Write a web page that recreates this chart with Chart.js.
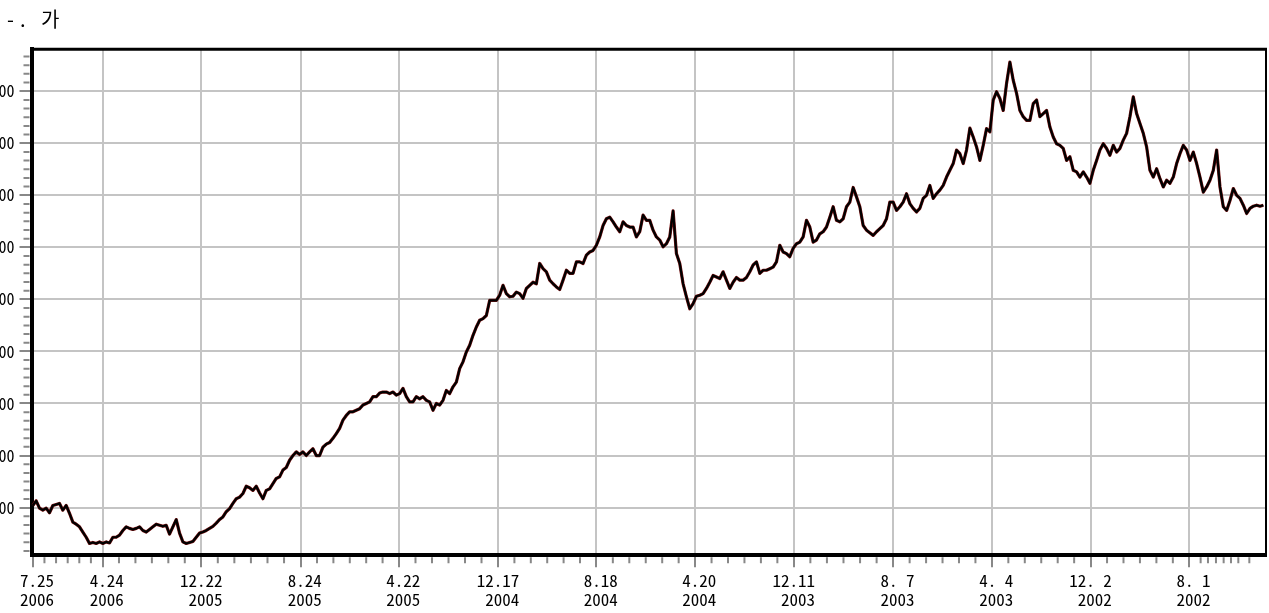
<!DOCTYPE html>
<html>
<head>
<meta charset="utf-8">
<script src="https://cdn.jsdelivr.net/npm/chart.js@4.4.1/dist/chart.umd.min.js"></script>
<style>
  body { margin: 0; background: #fff; overflow: hidden; }
  #wrap { position: relative; width: 1269px; height: 613px; }
  #title { position: absolute; left: 0; top: 0; font-family: 'Noto Sans CJK KR', sans-serif; font-size: 20px; color: #000; }
  #title span { position: absolute; top: 4px; white-space: nowrap; }
</style>
</head>
<body>
<div id="wrap">
  <canvas id="chart" width="1269" height="613"></canvas>
  <div id="title"><span style="left:7px">-</span><span style="left:20px">.</span><span style="left:41px">가</span></div>
</div>
<script>
// newest (left) to oldest (right)
var values = [
  104, 113, 99, 95, 99, 90, 104, 106, 108, 95,
  104, 89, 72, 68, 63, 53, 43, 31, 33, 31,
  34, 31, 34, 32, 43, 43, 47, 56, 63, 60,
  58, 60, 63, 56, 53, 58, 63, 68, 66, 64,
  66, 49, 63, 77, 51, 34, 31, 33, 35, 43,
  51, 53, 56, 60, 64, 70, 77, 82, 92, 98,
  108, 117, 120, 127, 141, 138, 133, 141, 128, 117,
  133, 136, 146, 156, 159, 172, 177, 191, 200, 207,
  202, 207, 200, 207, 213, 200, 200, 216, 222, 225,
  233, 242, 252, 268, 277, 284, 284, 287, 290, 297,
  300, 303, 313, 313, 320, 322, 322, 319, 322, 316,
  319, 329, 313, 303, 303, 313, 309, 313, 306, 303,
  287, 300, 297, 306, 325, 319, 332, 341, 367, 380,
  399, 412, 431, 447, 460, 463, 469, 498, 498, 498,
  508, 527, 511, 505, 506, 514, 511, 502, 521, 527,
  533, 530, 569, 559, 553, 537, 530, 524, 519, 537,
  556, 550, 550, 572, 572, 569, 585, 591, 594, 604,
  620, 642, 655, 658, 649, 639, 630, 649, 642, 639,
  639, 620, 630, 662, 652, 652, 633, 620, 614, 601,
  607, 620, 670, 588, 569, 530, 505, 482, 492, 506,
  508, 511, 521, 533, 546, 543, 540, 553, 537, 521,
  533, 542, 537, 537, 542, 553, 566, 572, 550, 556,
  556, 559, 562, 572, 604, 591, 588, 582, 598, 607,
  610, 620, 652, 639, 610, 614, 626, 630, 639, 658,
  678, 652, 649, 655, 678, 687, 715, 697, 678, 642,
  633, 628, 623, 630, 636, 642, 655, 687, 687, 671,
  678, 687, 703, 684, 675, 668, 675, 694, 700, 719,
  694, 703, 710, 719, 735, 748, 761, 787, 780, 761,
  787, 829, 812, 793, 767, 796, 828, 822, 883, 899,
  886, 863, 915, 956, 921, 896, 863, 851, 844, 844,
  876, 883, 851, 857, 863, 831, 812, 799, 796, 790,
  767, 774, 748, 745, 735, 745, 735, 723, 748, 767,
  787, 799, 790, 777, 796, 783, 790, 806, 819, 851,
  889, 857, 838, 819, 793, 748, 735, 751, 732, 716,
  729, 723, 735, 761, 780, 796, 787, 767, 783, 761,
  735, 706, 716, 729, 748, 787, 716, 678, 671, 690,
  713, 700, 694, 681, 665, 675, 679, 681, 679, 681
];

// x tick positions (sample index) and their labels
var tickIdx = [0, 20.9, 50.5, 80.3, 109.8, 139.5, 169.0, 198.6, 228.2, 258.0, 287.6, 317.2, 346.8];
var dateLabels = ['7.25', '4.24', '12.22', '8.24', '4.22', '12.17', '8.18', '4.20', '12.11', '8. 7', '4. 4', '12. 2', '8. 1'];
var yearLabels = ['2006', '2006', '2005', '2005', '2005', '2004', '2004', '2004', '2003', '2003', '2003', '2002', '2002'];
var yTicks = [100, 200, 300, 400, 500, 600, 700, 800, 900];

var monoFont = "'Noto Sans Mono CJK KR', 'DejaVu Sans Mono', monospace";

// small ticks between the labelled ones
var xMinor = [];
for (var j = 0; j < tickIdx.length - 1; j++) {
  var a = tickIdx[j], b = tickIdx[j + 1];
  for (var k = 1; k < 6; k++) xMinor.push(a + (b - a) * k / 6);
}
xMinor = xMinor.concat([350.2, 352.4, 354.8, 357.1, 359.3, 361.5, 364.8]);

var yMin = 8.3, yMax = 980.7;
var yMinor = [];
for (var m = -5; m <= 53; m++) {
  var v = 100 + m * 100 / 6;
  if (m % 6 !== 0 && v > yMin && v < yMax) yMinor.push(v);
}

const frameAndMinor = {
  id: 'frameAndMinor',
  afterDraw(chart) {
    const ctx = chart.ctx, area = chart.chartArea;
    const xs = chart.scales.x, ys = chart.scales.y;
    ctx.save();
    ctx.strokeStyle = '#888';
    ctx.lineWidth = 2;
    ctx.beginPath();
    xMinor.forEach(function (v) {
      const px = xs.getPixelForValue(v);
      ctx.moveTo(px, area.bottom + 2);
      ctx.lineTo(px, area.bottom + 8);
    });
    yMinor.forEach(function (v) {
      const py = ys.getPixelForValue(v);
      ctx.moveTo(area.left - 2, py);
      ctx.lineTo(area.left - 8, py);
    });
    ctx.stroke();
    ctx.strokeStyle = '#000';
    ctx.lineWidth = 3;
    ctx.beginPath();
    ctx.moveTo(area.left, area.top);
    ctx.lineTo(area.right + 1, area.top);
    ctx.stroke();
    ctx.lineWidth = 2;
    ctx.beginPath();
    ctx.moveTo(area.right, area.top);
    ctx.lineTo(area.right, area.bottom);
    ctx.stroke();
    ctx.restore();
  }
};

var points = values.map(function (v, i) { return { x: i, y: v }; });

new Chart(document.getElementById('chart'), {
  type: 'line',
  data: {
    datasets: [
      { data: points, borderColor: '#000', borderWidth: 2.2, pointRadius: 0, tension: 0, borderJoinStyle: 'round' },
      { data: points, borderColor: '#7a1414', borderWidth: 3.2, pointRadius: 0, tension: 0, borderJoinStyle: 'round' }
    ]
  },
  options: {
    responsive: false,
    animation: false,
    events: [],
    layout: { padding: { top: 49.2, right: 3, left: 0, bottom: 0 } },
    plugins: { legend: { display: false }, tooltip: { enabled: false }, title: { display: false } },
    scales: {
      x: {
        type: 'linear',
        min: -0.4,
        max: 369.8,
        afterBuildTicks: function (s) { s.ticks = tickIdx.map(function (v) { return { value: v }; }); },
        afterFit: function (s) { s.height = 57.7; },
        grid: { color: '#c4c4c4', lineWidth: 2, tickColor: '#888', tickWidth: 2, tickLength: 12 },
        border: { color: '#000', width: 4 },
        ticks: {
          autoSkip: false,
          maxRotation: 0,
          padding: 4,
          color: '#000',
          font: { family: monoFont, size: 17, lineHeight: 1.12 },
          callback: function (v, i) { return [dateLabels[i].padStart(5), yearLabels[i].padStart(5)]; }
        }
      },
      y: {
        min: yMin,
        max: yMax,
        afterBuildTicks: function (s) { s.ticks = yTicks.map(function (v) { return { value: v }; }); },
        afterFit: function (s) { s.width = 31.5; },
        grid: { color: '#c4c4c4', lineWidth: 2, tickColor: '#888', tickWidth: 2, tickLength: 12 },
        border: { color: '#000', width: 4 },
        ticks: {
          padding: 5,
          color: '#000',
          font: { family: monoFont, size: 16 },
          callback: function (v) { return String(v); }
        }
      }
    }
  },
  plugins: [frameAndMinor]
});
</script>
</body>
</html>
